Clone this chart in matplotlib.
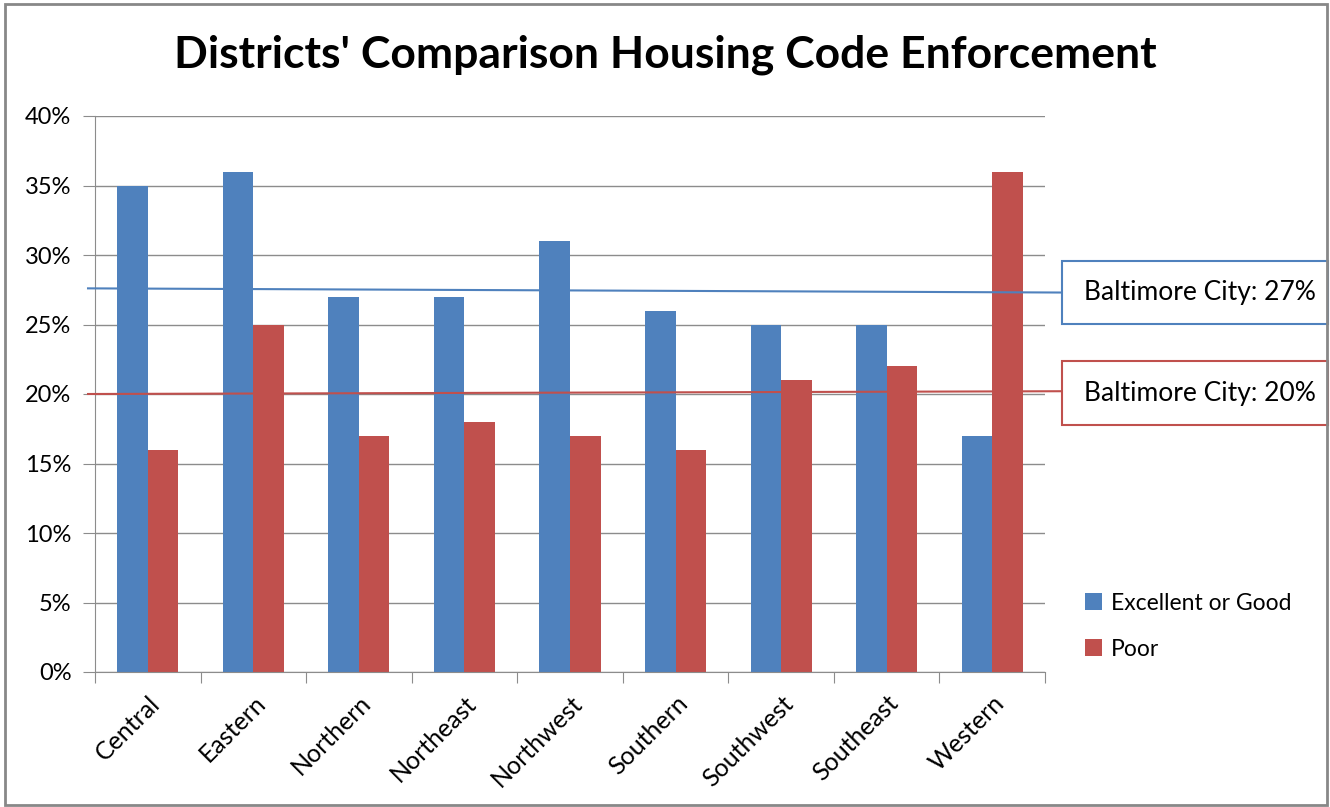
import numpy as np
import matplotlib.pyplot as plt
from matplotlib.patches import Rectangle

districts = ['Central', 'Eastern', 'Northern', 'Northeast', 'Northwest',
             'Southern', 'Southwest', 'Southeast', 'Western']
good = [35, 36, 27, 27, 31, 26, 25, 25, 17]
poor = [16, 25, 17, 18, 17, 16, 21, 22, 36]
city_good = [27.6, 27.3]   # the drawn line is slightly sloped
city_poor = [20.0, 20.2]
city_labels = ['Baltimore City: 27%', 'Baltimore City: 20%']

blue = '#4F81BD'
red = '#C0504D'
plt.rcParams['font.family'] = ['Lato', 'DejaVu Sans']

fig = plt.figure(figsize=(13.3, 8.07), dpi=100)
ax = fig.add_axes([95/1330, 1-672/807, 950/1330, 556/807])

x = np.arange(len(districts))
w = 0.29
ax.bar(x - w/2, good, w, color=blue, label='Excellent or Good', zorder=2)
ax.bar(x + w/2, poor, w, color=red, label='Poor', zorder=2)

ax.set_xlim(-0.5, len(districts) - 0.5)
ax.set_ylim(0, 40)
ax.set_yticks(range(0, 41, 5))
ax.set_yticklabels([f'{v}%' for v in range(0, 41, 5)], fontsize=17)
ax.yaxis.grid(True, color='#8C8C8C', linewidth=1, zorder=0)
ax.set_axisbelow(True)

ax.set_xticks(np.arange(-0.5, len(districts), 1.0))
ax.set_xticklabels([])
ax.set_xticks(x, minor=True)
ax.set_xticklabels(districts, minor=True, rotation=45, ha='right',
                   rotation_mode='anchor', fontsize=18)
ax.tick_params(axis='x', which='minor', length=0, pad=14)
ax.tick_params(axis='x', which='major', length=8, color='#8C8C8C', direction='out')
ax.tick_params(axis='y', length=9, color='#8C8C8C', direction='out', pad=8)

for s in ['top', 'right']:
    ax.spines[s].set_visible(False)
for s in ['left', 'bottom']:
    ax.spines[s].set_color('#8C8C8C')

# Baltimore City reference lines
xl = [-0.566, 8.66]
ax.plot(xl, city_good, color=blue, lw=1.5, clip_on=False, zorder=3)
ax.plot(xl, city_poor, color=red, lw=1.5, clip_on=False, zorder=3)

# boxes with labels
for (y0, y1), lab, col in [((261, 324), city_labels[0], blue),
                           ((361, 425), city_labels[1], red)]:
    fig.patches.append(Rectangle((1062/1330, 1-y1/807), 266/1330, (y1-y0)/807,
                                 transform=fig.transFigure, fill=False,
                                 edgecolor=col, lw=1.5))
    fig.text(1084/1330, 1-(y0+y1)/2/807, lab, fontsize=19, va='center', ha='left')

leg = fig.legend(loc='upper left', bbox_to_anchor=(1064/1330, 1-572/807),
                 frameon=False, fontsize=16.5, handlelength=0.75, handleheight=0.75,
                 labelspacing=1.1, handletextpad=0.4)

fig.suptitle("Districts' Comparison Housing Code Enforcement", fontsize=32,
             fontweight='bold', y=1-55/807, va='center')

fig.patches.append(Rectangle((0.004, 0.002), 0.994, 0.993, transform=fig.transFigure,
                             fill=False, edgecolor='#888888', lw=2))

fig.savefig('out.png', dpi=100)
